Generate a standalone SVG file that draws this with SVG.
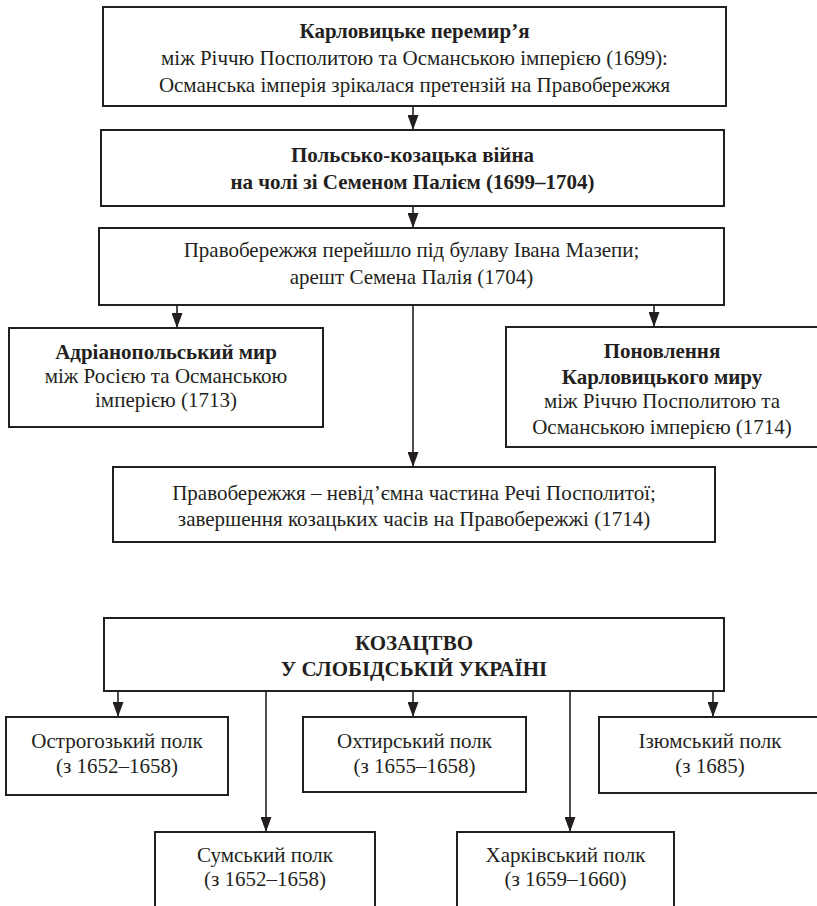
<svg xmlns="http://www.w3.org/2000/svg" width="817" height="906" viewBox="0 0 817 906">
<style>
.box{fill:#fff;stroke:#231f20;stroke-width:2}
.t{font-family:'Liberation Serif','DejaVu Serif',serif;font-size:21px;fill:#231f20;text-anchor:middle}
.b{font-weight:bold}
.c{stroke:#231f20;stroke-width:1.6;fill:none}
</style>
<defs>
<marker id="ah" markerUnits="userSpaceOnUse" markerWidth="15" markerHeight="11" refX="15" refY="5.5" orient="auto" viewBox="0 0 15 11">
<path d="M0,0 L15,5.5 L0,11 Z" fill="#231f20"/>
</marker>
</defs>
<rect width="817" height="906" fill="#fff"/>
<g id="connectors">
<line class="c" x1="413" y1="106" x2="413" y2="130" marker-end="url(#ah)"/>
<line class="c" x1="413" y1="206" x2="413" y2="228" marker-end="url(#ah)"/>
<line class="c" x1="177" y1="305" x2="177" y2="328" marker-end="url(#ah)"/>
<line class="c" x1="654" y1="305" x2="654" y2="327" marker-end="url(#ah)"/>
<line class="c" x1="413" y1="305" x2="413" y2="467" marker-end="url(#ah)"/>
<line class="c" x1="118" y1="691" x2="118" y2="717" marker-end="url(#ah)"/>
<line class="c" x1="413" y1="691" x2="413" y2="717" marker-end="url(#ah)"/>
<line class="c" x1="713" y1="691" x2="713" y2="717" marker-end="url(#ah)"/>
<line class="c" x1="266" y1="691" x2="266" y2="832" marker-end="url(#ah)"/>
<line class="c" x1="570" y1="691" x2="570" y2="832" marker-end="url(#ah)"/>
</g>
<g font-family="Liberation Serif, DejaVu Serif, serif">
<g id="n1">
<rect class="box" x="103" y="7" width="623" height="99"/>
<text class="t b" x="414.5" y="38">Карловицьке перемир’я</text>
<text class="t" x="414.5" y="65">між Річчю Посполитою та Османською імперією (1699):</text>
<text class="t" x="414.5" y="92">Османська імперія зрікалася претензій на Правобережжя</text>
</g>
<g id="n2">
<rect class="box" x="101" y="130" width="623" height="76"/>
<text class="t b" x="412.5" y="162">Польсько-козацька війна</text>
<text class="t b" x="412.5" y="189">на чолі зі Семеном Палієм (1699–1704)</text>
</g>
<g id="n3">
<rect class="box" x="99" y="228" width="625" height="77"/>
<text class="t" x="411.5" y="257">Правобережжя перейшло під булаву Івана Мазепи;</text>
<text class="t" x="411.5" y="284">арешт Семена Палія (1704)</text>
</g>
<g id="n4">
<rect class="box" x="9" y="328" width="314" height="99"/>
<text class="t b" x="166" y="359">Адріанопольський мир</text>
<text class="t" x="166" y="383">між Росією та Османською</text>
<text class="t" x="166" y="407">імперією (1713)</text>
</g>
<g id="n5">
<rect class="box" x="506" y="327" width="312" height="120"/>
<text class="t b" x="662" y="358">Поновлення</text>
<text class="t b" x="662" y="384">Карловицького миру</text>
<text class="t" x="662" y="408">між Річчю Посполитою та</text>
<text class="t" x="662" y="434">Османською імперією (1714)</text>
</g>
<g id="n6">
<rect class="box" x="113" y="467" width="602" height="75"/>
<text class="t" x="414" y="500">Правобережжя – невід’ємна частина Речі Посполитої;</text>
<text class="t" x="414" y="526">завершення козацьких часів на Правобережжі (1714)</text>
</g>
<g id="n7">
<rect class="box" x="104" y="618" width="620" height="73"/>
<text class="t b" x="414" y="650">КОЗАЦТВО</text>
<text class="t b" x="414" y="676">У СЛОБІДСЬКІЙ УКРАЇНІ</text>
</g>
<g id="n8">
<rect class="box" x="6" y="717" width="222" height="78"/>
<text class="t" x="117" y="748">Острогозький полк</text>
<text class="t" x="117" y="773">(з 1652–1658)</text>
</g>
<g id="n9">
<rect class="box" x="303" y="717" width="223" height="75"/>
<text class="t" x="414.5" y="748">Охтирський полк</text>
<text class="t" x="414.5" y="773">(з 1655–1658)</text>
</g>
<g id="n10">
<rect class="box" x="599" y="717" width="222" height="76"/>
<text class="t" x="710" y="748">Ізюмський полк</text>
<text class="t" x="710" y="773">(з 1685)</text>
</g>
<g id="n11">
<rect class="box" x="155" y="832" width="220" height="80"/>
<text class="t" x="265" y="862">Сумський полк</text>
<text class="t" x="265" y="886">(з 1652–1658)</text>
</g>
<g id="n12">
<rect class="box" x="457" y="832" width="217" height="80"/>
<text class="t" x="565.5" y="862">Харківський полк</text>
<text class="t" x="565.5" y="886">(з 1659–1660)</text>
</g>
</g>
</svg>
